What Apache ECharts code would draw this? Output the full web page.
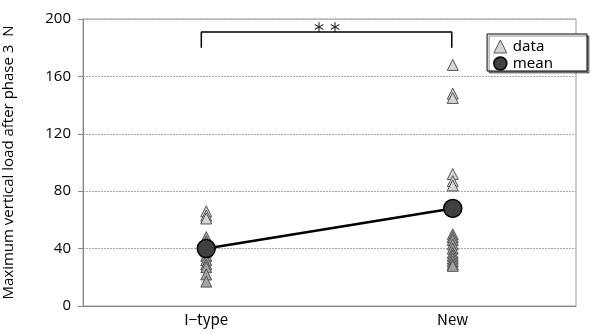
<!DOCTYPE html>
<html><head><meta charset="utf-8">
<script src="https://cdn.jsdelivr.net/npm/echarts@6/dist/echarts.min.js"></script>
<style>html,body{margin:0;padding:0;background:#fff}#c{width:590px;height:334px}</style>
</head><body><div id="c"></div>
<script>
const categories = ['I\u2212type', 'New'];
const yTicks = [0, 40, 80, 120, 160, 200];
const iTypeValues = [66, 63, 61, 48, 45, 42, 38, 35, 32, 29, 27, 22, 17];
const newValues = [168, 148, 145, 92, 87, 84, 50, 48, 46, 43, 40, 37, 35, 33, 31, 29, 28];
const meanValues = [40, 68];
const bracketLevel = 191;
const bracketFoot = 180;
const sigLabel = '\uFF0A \uFF0A';

const dataPts = [];
iTypeValues.forEach(v => dataPts.push([categories[0], v]));
newValues.forEach(v => dataPts.push([categories[1], v]));
const meanPts = meanValues.map((v, i) => [categories[i], v]);

const chart = echarts.init(document.getElementById('c'));
const axisFont = 'Open Sans, sans-serif';
chart.setOption({
  animation: false,
  grid: { left: 83, right: 14, top: 19, bottom: 28, show: true, borderColor: '#999', borderWidth: 1,
          outerBoundsMode: 'none', containLabel: false },
  legend: {
    orient: 'vertical', right: 3, top: 34,
    backgroundColor: '#fff', borderColor: '#000', borderWidth: 1,
    shadowColor: 'rgba(0,0,0,0.45)', shadowOffsetX: 2, shadowOffsetY: 2, shadowBlur: 0,
    padding: [5, 34, 0, 6], itemGap: 2, itemWidth: 13, itemHeight: 13,
    textStyle: { fontFamily: 'Noto Sans', fontSize: 15, color: '#000', padding: [0, 0, 0, 1] },
    data: [
      { name: 'data', icon: 'triangle', itemStyle: { color: '#d4d4d4', borderColor: '#555', borderWidth: 1 } },
      { name: 'mean', icon: 'circle', itemStyle: { color: '#404040', borderColor: '#000', borderWidth: 1.5 } }
    ]
  },
  xAxis: [
    { type: 'category', data: categories, boundaryGap: true,
      axisLine: { onZero: false, lineStyle: { color: '#888' } }, axisTick: { show: false },
      axisLabel: { color: '#000', fontSize: 15, fontFamily: 'Noto Sans CJK JP', margin: 6 } },
    { type: 'value', min: -0.5, max: 1.5, show: false }
  ],
  yAxis: {
    type: 'value', min: yTicks[0], max: yTicks[yTicks.length - 1], interval: 40,
    name: 'Maximum vertical load after phase 3  N', nameLocation: 'middle', nameGap: 67,
    nameTextStyle: { color: '#000', fontSize: 15, fontFamily: axisFont },
    axisLine: { show: true, onZero: false, lineStyle: { color: '#888' } },
    axisTick: { show: true, length: 5, lineStyle: { color: '#888' } },
    axisLabel: { color: '#000', fontSize: 15, fontFamily: axisFont, margin: 12 },
    splitLine: { lineStyle: { color: '#aaa', type: [2, 1], width: 1 } }
  },
  series: [
    { name: 'data', type: 'scatter', xAxisIndex: 0, symbol: 'triangle', symbolSize: [11, 11], z: 3,
      data: dataPts,
      itemStyle: { borderColor: '#555', borderWidth: 1, opacity: 1,
        color: p => p.value[1] > 55 ? '#d6d6d6' : '#a2a2a2' } },
    { name: 'mean', type: 'line', xAxisIndex: 0, symbol: 'circle', symbolSize: 18, z: 4,
      data: meanPts,
      lineStyle: { color: '#000', width: 2.5 },
      itemStyle: { color: '#404040', borderColor: '#000', borderWidth: 1.5 } },
    { name: 'bracket', type: 'line', xAxisIndex: 1, symbol: 'none', silent: true,
      data: [[-0.02, bracketFoot], [-0.02, bracketLevel], [0.996, bracketLevel], [0.996, bracketFoot]],
      lineStyle: { color: '#000', width: 1.5 } },
    { name: 'sig', type: 'scatter', xAxisIndex: 1, symbolSize: 0, silent: true,
      data: [[0.49, bracketLevel]],
      label: { show: true, position: 'top', distance: -2, formatter: sigLabel,
        color: '#000', fontSize: 13, fontWeight: 'bold', fontFamily: 'Noto Sans CJK JP' } }
  ]
});
</script></body></html>
